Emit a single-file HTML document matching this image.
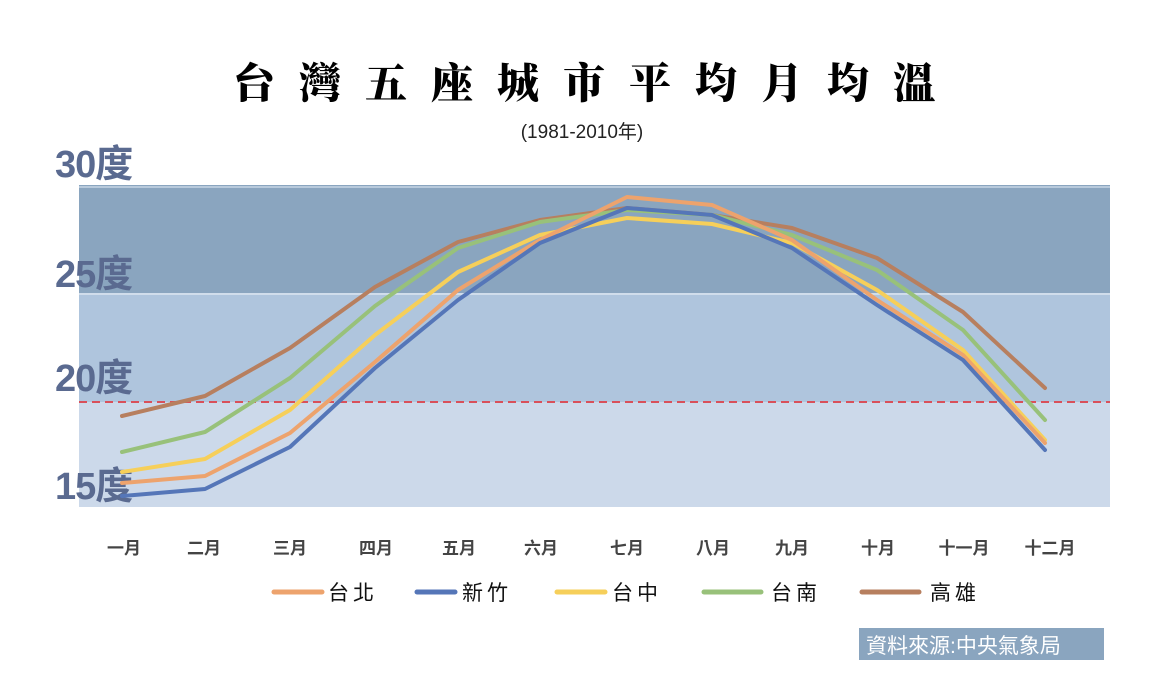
<!DOCTYPE html>
<html><head><meta charset="utf-8"><style>
body{margin:0;background:#fff;width:1164px;height:688px;overflow:hidden;font-family:"Liberation Sans","Noto Sans CJK TC",sans-serif}
</style></head><body>
<svg width="1164" height="688" xmlns="http://www.w3.org/2000/svg" font-family="Liberation Sans, Noto Sans CJK TC, sans-serif">
<text x="596" y="98" text-anchor="middle" font-family="Noto Serif CJK SC, serif" font-weight="900" font-size="42" letter-spacing="24">台灣五座城市平均月均溫</text>
<text x="582" y="138" text-anchor="middle" font-size="19" fill="#222">(1981-2010年)</text>
<rect x="79" y="185" width="1031" height="108" fill="#8aa5bf"/>
<rect x="79" y="293" width="1031" height="109" fill="#afc5dd"/>
<rect x="79" y="402" width="1031" height="105" fill="#ccd9ea"/>
<line x1="79" y1="187" x2="1110" y2="187" stroke="#c8d6e6" stroke-width="1.5"/>
<line x1="79" y1="294" x2="1110" y2="294" stroke="#dbe5f0" stroke-width="1.5"/>
<line x1="79" y1="402" x2="1110" y2="402" stroke="#d9505a" stroke-width="2" stroke-dasharray="8,5"/>
<g font-size="38" font-weight="bold" fill="#5a6a90" letter-spacing="-1">
<text x="55" y="177">30度</text><text x="55" y="287">25度</text><text x="55" y="391">20度</text><text x="55" y="499">15度</text>
</g>
<g fill="none" stroke-width="4" stroke-linejoin="round" stroke-linecap="round">
<polyline stroke="#b77f5f" points="122,416 205,396 290,348 375,287 458,242 540,220 627,208 712,215 792,228 877,258 963,312 1045,388"/>
<polyline stroke="#98c17a" points="122,452 205,432 290,378 375,306 458,248 540,222 627,210 712,215 792,235 877,270 963,330 1045,420"/>
<polyline stroke="#f6cf5a" points="122,472 205,459 290,410 375,335 458,272 540,235 627,218 712,224 792,243 877,290 963,350 1045,440"/>
<polyline stroke="#eda36d" points="122,483 205,476 290,433 375,362 458,290 540,240 627,197 712,205 792,240 877,300 963,355 1045,443"/>
<polyline stroke="#5576b8" points="122,496 205,489 290,447 375,368 458,300 540,243 627,208 712,215 792,248 877,305 963,360 1045,450"/>
</g>
<g font-size="17" font-weight="bold" fill="#444" text-anchor="middle">
<text x="124" y="554">一月</text><text x="204" y="554">二月</text><text x="290" y="554">三月</text><text x="376" y="554">四月</text><text x="459" y="554">五月</text><text x="541" y="554">六月</text><text x="627" y="554">七月</text><text x="713" y="554">八月</text><text x="792" y="554">九月</text><text x="878" y="554">十月</text><text x="964" y="554">十一月</text><text x="1050" y="554">十二月</text>
</g>
<g stroke-width="5" stroke-linecap="round">
<line x1="274" y1="592" x2="322" y2="592" stroke="#eda36d"/>
<line x1="417" y1="592" x2="455" y2="592" stroke="#5576b8"/>
<line x1="557" y1="592" x2="605" y2="592" stroke="#f6cf5a"/>
<line x1="704" y1="592" x2="761" y2="592" stroke="#98c17a"/>
<line x1="862" y1="592" x2="919" y2="592" stroke="#b77f5f"/>
</g>
<g font-size="21" fill="#111" letter-spacing="4">
<text x="328" y="600">台北</text><text x="462" y="600">新竹</text><text x="612" y="600">台中</text><text x="771" y="600">台南</text><text x="930" y="600">高雄</text>
</g>
<rect x="859" y="628" width="245" height="32" fill="#8aa5bf"/>
<text x="866" y="653" font-size="21" fill="#fff">資料來源:中央氣象局</text>
</svg>
</body></html>
